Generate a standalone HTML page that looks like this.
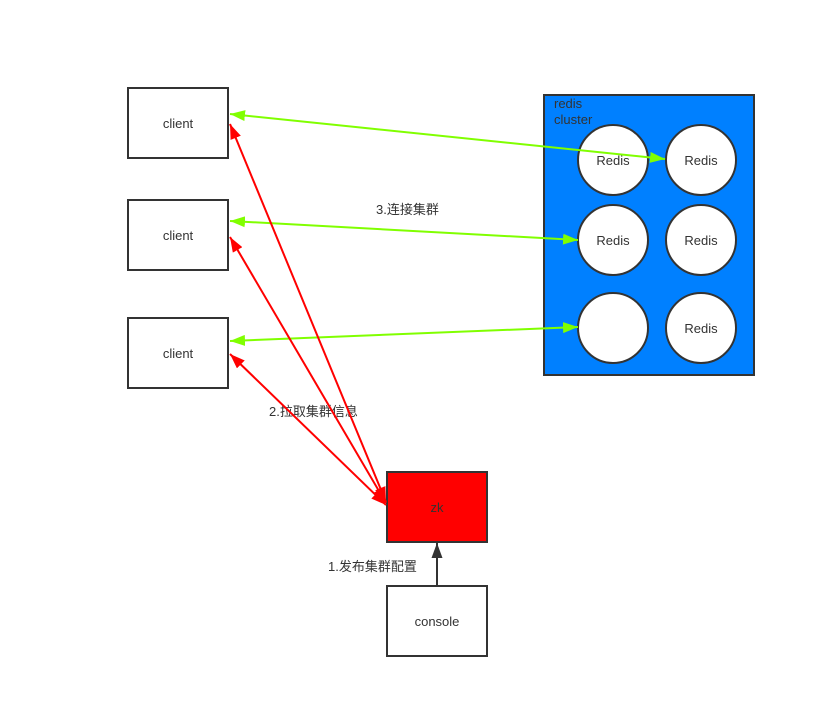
<!DOCTYPE html>
<html><head><meta charset="utf-8"><style>
html,body{margin:0;padding:0;background:#fff;}
svg{display:block;}
text{font-family:"Liberation Sans","Noto Sans CJK SC",sans-serif;font-size:13px;fill:#333;}
</style></head><body>
<svg width="816" height="718" viewBox="0 0 816 718" xmlns="http://www.w3.org/2000/svg">
<defs>
<marker id="g" markerWidth="15" markerHeight="11" refX="15" refY="5.5" orient="auto-start-reverse" markerUnits="userSpaceOnUse"><path d="M0,0 L15,5.5 L0,11 z" fill="#80ff00"/></marker>
<marker id="r" markerWidth="15" markerHeight="11" refX="15" refY="5.5" orient="auto-start-reverse" markerUnits="userSpaceOnUse"><path d="M0,0 L15,5.5 L0,11 z" fill="#ff0000"/></marker>
<marker id="k" markerWidth="15" markerHeight="11" refX="15" refY="5.5" orient="auto" markerUnits="userSpaceOnUse"><path d="M0,0 L15,5.5 L0,11 z" fill="#333"/></marker>
</defs>
<g stroke="#333" stroke-width="2" fill="#fff">
<rect x="128" y="88" width="100" height="70"/>
<rect x="128" y="200" width="100" height="70"/>
<rect x="128" y="318" width="100" height="70"/>
<rect x="387" y="586" width="100" height="70"/>
<rect x="387" y="472" width="100" height="70" fill="#ff0000"/>
<rect x="544" y="95" width="210" height="280" fill="#0080ff"/>
<ellipse cx="613" cy="160" rx="35" ry="35"/>
<ellipse cx="701" cy="160" rx="35" ry="35"/>
<ellipse cx="613" cy="240" rx="35" ry="35"/>
<ellipse cx="701" cy="240" rx="35" ry="35"/>
<ellipse cx="613" cy="328" rx="35" ry="35"/>
<ellipse cx="701" cy="328" rx="35" ry="35"/>
</g>
<text x="178" y="128" text-anchor="middle">client</text>
<text x="178" y="240" text-anchor="middle">client</text>
<text x="178" y="358" text-anchor="middle">client</text>
<text x="437" y="626" text-anchor="middle">console</text>
<text x="437" y="512" text-anchor="middle">zk</text>
<text x="554" y="108">redis</text>
<text x="554" y="124">cluster</text>
<text x="613" y="165" text-anchor="middle">Redis</text>
<text x="701" y="165" text-anchor="middle">Redis</text>
<text x="613" y="245" text-anchor="middle">Redis</text>
<text x="701" y="245" text-anchor="middle">Redis</text>
<text x="701" y="333" text-anchor="middle">Redis</text>
<text x="376" y="214" font-size="12">3.连接集群</text>
<text x="269" y="416" font-size="12">2.拉取集群信息</text>
<text x="328" y="571" font-size="12">1.发布集群配置</text>
<g stroke-width="2" fill="none">
<line x1="230" y1="114" x2="665" y2="159" stroke="#80ff00" marker-start="url(#g)" marker-end="url(#g)"/>
<line x1="230" y1="221" x2="578" y2="240" stroke="#80ff00" marker-start="url(#g)" marker-end="url(#g)"/>
<line x1="230" y1="341" x2="578" y2="327" stroke="#80ff00" marker-start="url(#g)" marker-end="url(#g)"/>
<line x1="230" y1="124" x2="386" y2="502" stroke="#ff0000" marker-start="url(#r)" marker-end="url(#r)"/>
<line x1="230" y1="237" x2="386" y2="503" stroke="#ff0000" marker-start="url(#r)" marker-end="url(#r)"/>
<line x1="230" y1="354" x2="386" y2="505" stroke="#ff0000" marker-start="url(#r)" marker-end="url(#r)"/>
<line x1="437" y1="586" x2="437" y2="543" stroke="#333" marker-end="url(#k)"/>
</g>
</svg>
</body></html>
